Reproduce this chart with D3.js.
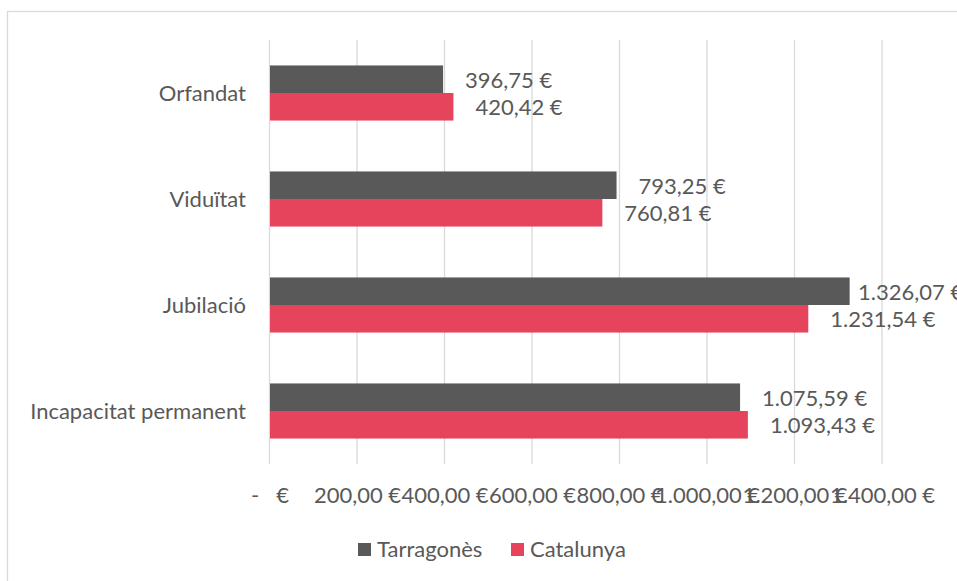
<!DOCTYPE html>
<html>
<head>
<meta charset="utf-8">
<script src="https://cdn.jsdelivr.net/npm/d3@7"></script>
<style>
  body { margin: 0; background: #fff; }
  svg text { font-family: Lato, "Open Sans", sans-serif; fill: #595959; }
</style>
</head>
<body>
<svg id="chart"></svg>
<script>
//// DATA
const categories = ["Orfandat", "Viduïtat", "Jubilació", "Incapacitat permanent"];
const seriesNames = ["Tarragonès", "Catalunya"];
const tarragones = [396.75, 793.25, 1326.07, 1075.59];
const catalunya = [420.42, 760.81, 1231.54, 1093.43];
const tickValues = [0, 200, 400, 600, 800, 1000, 1200, 1400];
const tickLabels = ["-   €", "200,00 €", "400,00 €", "600,00 €", "800,00 €", "1.000,00 €", "1.200,00 €", "1.400,00 €"];
const colors = ["#595959", "#E6445C"];

//// SETTINGS
const width = 957;
const height = 581;
const fontSize = 22;

const svg = d3.select("#chart").attr("width", width).attr("height", height);

// chart frame
svg.append("rect")
    .attr("x", 7.5).attr("y", 11.5)
    .attr("width", 960).attr("height", 580)
    .attr("fill", "none")
    .attr("stroke", "#d9d9d9")
    .attr("stroke-width", 1.3);

// scales
const x = d3.scaleLinear().domain([0, 1400]).range([269.5, 882]);
const y = d3.scaleBand().domain(categories).range([40, 464])
    .paddingInner(0.48).paddingOuter(0.24);
const ySeries = d3.scaleBand().domain(seriesNames).range([0, y.bandwidth()]);

// gridlines
svg.append("g")
    .selectAll("line")
    .data(tickValues)
    .enter()
    .append("line")
    .attr("x1", d => x(d)).attr("x2", d => x(d))
    .attr("y1", 40).attr("y2", 464)
    .attr("stroke", "#d9d9d9")
    .attr("stroke-width", 1.3);

// x axis labels (no line, no ticks)
const xAxis = svg.append("g")
    .attr("transform", "translate(0,495)")
    .call(d3.axisBottom(x).tickValues(tickValues).tickSize(0).tickPadding(0)
        .tickFormat((d, i) => tickLabels[i]));
xAxis.select(".domain").remove();
xAxis.selectAll("text")
    .attr("y", 0)
    .attr("dy", "0.35em")
    .style("font-size", fontSize + "px")
    .style("font-family", "Lato")
    .style("fill", "#595959")
    .style("white-space", "pre");

// category labels
svg.append("g")
    .selectAll("text")
    .data(categories)
    .enter()
    .append("text")
    .attr("x", 246)
    .attr("y", d => y(d) + y.bandwidth() / 2)
    .attr("dy", "0.35em")
    .attr("text-anchor", "end")
    .style("font-size", fontSize + "px")
    .text(d => d);

// bars
const rows = [];
categories.forEach(function (c, i) {
    rows.push({ cat: c, series: seriesNames[0], value: tarragones[i], color: colors[0] });
    rows.push({ cat: c, series: seriesNames[1], value: catalunya[i], color: colors[1] });
});

svg.append("g")
    .selectAll("rect")
    .data(rows)
    .enter()
    .append("rect")
    .attr("x", x(0) + 0.5)
    .attr("y", d => y(d.cat) + ySeries(d.series))
    .attr("width", d => x(d.value) - x(0) - 0.5)
    .attr("height", ySeries.bandwidth())
    .attr("fill", d => d.color);

// value labels, accounting format pads them away from bar end
const fmt = d3.formatLocale({ decimal: ",", thousands: ".", grouping: [3], currency: ["", " €"] }).format(",.2f");

svg.append("g")
    .selectAll("text")
    .data(rows)
    .enter()
    .append("text")
    .attr("x", d => Math.min(x(d.value) + 22, 858))
    .attr("y", d => y(d.cat) + ySeries(d.series) + ySeries.bandwidth() / 2 + 1)
    .attr("dy", "0.35em")
    .style("font-size", fontSize + "px")
    .text(d => fmt(d.value) + " €");

// legend
const legend = svg.append("g").attr("transform", "translate(0,549.5)");
const legendX = [358, 511];
seriesNames.forEach(function (s, i) {
    legend.append("rect")
        .attr("x", legendX[i]).attr("y", -6.5)
        .attr("width", 13).attr("height", 13)
        .attr("fill", colors[i]);
    legend.append("text")
        .attr("x", legendX[i] + 19)
        .attr("y", 0)
        .attr("dy", "0.35em")
        .style("font-size", fontSize + "px")
        .text(s);
});
</script>
</body>
</html>
